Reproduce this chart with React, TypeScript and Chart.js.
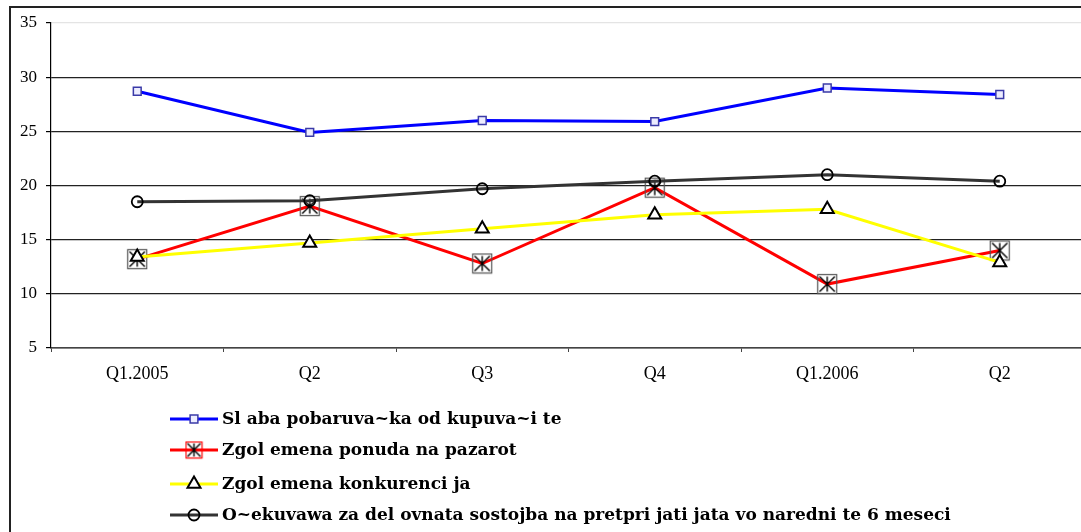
import React, { useEffect, useRef } from 'react';
import { Chart, registerables } from 'chart.js';
import { drawPoint } from 'chart.js/helpers';

Chart.register(...registerables);

const categories = ['Q1.2005', 'Q2', 'Q3', 'Q4', 'Q1.2006', 'Q2'];
const slabaPobaruvacka = [28.7, 24.9, 26.0, 25.9, 29.0, 28.4];
const zgolemenaPonuda = [13.2, 18.1, 12.8, 19.8, 10.9, 14.0];
const zgolemenaKonkurencija = [13.4, 14.7, 16.0, 17.3, 17.8, 12.9];
const ocekuvanja = [18.5, 18.6, 19.7, 20.4, 21.0, 20.4];
const seriesLabels = [
  'Sl aba pobaruva~ka od kupuva~i te',
  'Zgol emena ponuda na pazarot',
  'Zgol emena konkurenci ja',
  'O~ekuvawa za del ovnata sostojba na pretpri jati jata vo naredni te 6 meseci',
];
const yMin = 5;
const yMax = 35;
const yStep = 5;

function makeStarBox(boxColor: string, size: number): HTMLCanvasElement {
  const c = document.createElement('canvas');
  c.width = size + 2;
  c.height = size + 2;
  const g = c.getContext('2d')!;
  const m = (size + 2) / 2;
  g.strokeStyle = boxColor;
  g.lineWidth = 1.2;
  g.strokeRect(1.5, 1.5, size - 1, size - 1);
  g.strokeStyle = '#000';
  g.lineWidth = 1.4;
  const a = size * 0.38;
  g.beginPath();
  g.moveTo(m, m - a);
  g.lineTo(m, m + a);
  g.moveTo(m - a, m - a);
  g.lineTo(m + a, m + a);
  g.moveTo(m + a, m - a);
  g.lineTo(m - a, m + a);
  g.stroke();
  return c;
}

const legendPlugin = {
  id: 'stackedLegend',
  afterDraw(chart: any) {
    const ctx = chart.ctx as CanvasRenderingContext2D;
    const rows = [419, 450, 484, 515];
    const x0 = 170;
    const x1 = 218;
    ctx.save();
    chart.data.datasets.forEach((ds: any, i: number) => {
      const y = rows[i];
      ctx.strokeStyle = ds.borderColor;
      ctx.lineWidth = 3;
      ctx.beginPath();
      ctx.moveTo(x0, y);
      ctx.lineTo(x1, y);
      ctx.stroke();
      ctx.fillStyle = ds.pointBackgroundColor;
      ctx.strokeStyle = ds.pointBorderColor;
      ctx.lineWidth = ds.pointBorderWidth;
      const style = ds.legendPointStyle || ds.pointStyle;
      drawPoint(ctx, { pointStyle: style, radius: ds.pointRadius, rotation: 0, borderWidth: ds.pointBorderWidth } as any, (x0 + x1) / 2, y);
      ctx.fillStyle = '#000';
      ctx.font = 'bold 17px "DejaVu Serif"';
      ctx.textBaseline = 'middle';
      ctx.textAlign = 'left';
      ctx.fillText(ds.label, 222, y + 1);
    });
    ctx.restore();
  },
};

export default function App() {
  const ref = useRef<HTMLCanvasElement>(null);
  useEffect(() => {
    const starChart = makeStarBox('#555', 20);
    const starLegend = makeStarBox('#ff0000', 17);
    const chart = new Chart(ref.current!, {
      type: 'line',
      data: {
        labels: categories,
        datasets: [
          {
            label: seriesLabels[0],
            data: slabaPobaruvacka,
            borderColor: '#0000ff',
            borderWidth: 3,
            pointStyle: 'rect',
            pointRadius: 5.5,
            pointBorderWidth: 1.5,
            pointBorderColor: '#3a3aa8',
            pointBackgroundColor: '#ececff',
            order: 3,
          },
          {
            label: seriesLabels[1],
            data: zgolemenaPonuda,
            borderColor: '#ff0000',
            borderWidth: 3,
            pointStyle: starChart,
            legendPointStyle: starLegend,
            pointRadius: 10,
            pointBorderWidth: 1,
            pointBorderColor: '#000',
            pointBackgroundColor: 'rgba(0,0,0,0)',
            order: 2,
          } as any,
          {
            label: seriesLabels[2],
            data: zgolemenaKonkurencija,
            borderColor: '#ffff00',
            borderWidth: 3,
            pointStyle: 'triangle',
            pointRadius: 7.5,
            pointBorderWidth: 2,
            pointBorderColor: '#000',
            pointBackgroundColor: '#ffffff',
            order: 1,
          },
          {
            label: seriesLabels[3],
            data: ocekuvanja,
            borderColor: '#333333',
            borderWidth: 3,
            pointStyle: 'circle',
            pointRadius: 5.5,
            pointBorderWidth: 1.8,
            pointBorderColor: '#000',
            pointBackgroundColor: 'rgba(255,255,255,0)',
            order: 0,
          },
        ],
      },
      options: {
        animation: false,
        responsive: true,
        maintainAspectRatio: false,
        events: [],
        layout: { padding: { left: 0, top: 23, right: 4, bottom: 134 } },
        elements: { line: { tension: 0 } },
        plugins: { legend: { display: false }, tooltip: { enabled: false } },
        scales: {
          x: {
            offset: true,
            afterFit: (s: any) => { s.height = 50; },
            grid: { offset: true, drawOnChartArea: false, drawTicks: true, tickLength: 4, color: '#444', lineWidth: 1 },
            border: { display: true, color: '#444', width: 1.5 },
            ticks: { color: '#000', padding: 11, font: { family: '"Liberation Serif"', size: 18 } },
          },
          y: {
            min: yMin,
            max: yMax,
            afterFit: (s: any) => { s.width = 51; },
            ticks: { stepSize: yStep, color: '#000', padding: 9, font: { family: '"Liberation Serif"', size: 17 } },
            grid: {
              tickLength: 5,
              color: (c: any) => (c.tick && c.tick.value === yMax ? '#e4e4e4' : '#222'),
              tickColor: '#000',
              lineWidth: 1.2,
            },
            border: { display: true, color: '#000', width: 1.2 },
          },
        },
      },
      plugins: [legendPlugin],
    });
    return () => chart.destroy();
  }, []);
  return (
    <div style={{ position: 'fixed', left: 0, top: 0, width: 1081, height: 532, overflow: 'hidden', background: '#fff' }}>
      <div style={{ position: 'absolute', left: 0, top: 0, width: 1097, height: 532 }}>
        <canvas ref={ref} />
      </div>
      <div style={{ position: 'absolute', left: 9, top: 6, width: 1100, height: 560, borderLeft: '2px solid #222', borderTop: '2px solid #222', pointerEvents: 'none' }} />
    </div>
  );
}
